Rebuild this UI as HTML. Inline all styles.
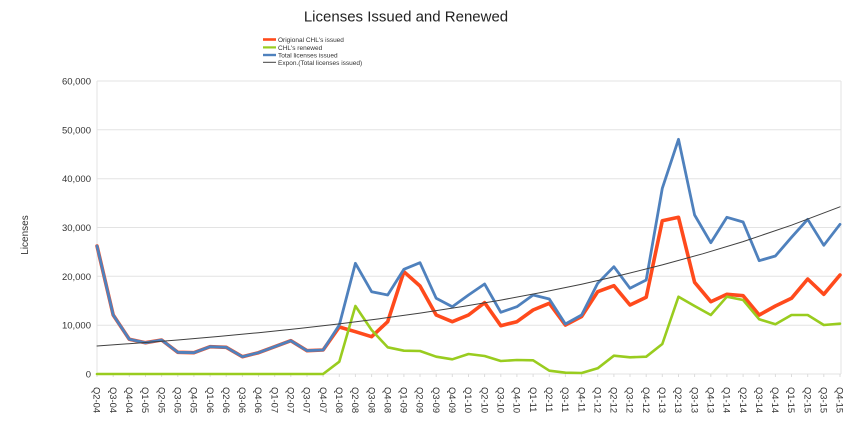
<!DOCTYPE html>
<html><head><meta charset="utf-8"><style>
html,body{margin:0;padding:0;background:#fff;}
svg{display:block;font-family:"Liberation Sans",Arial,sans-serif;}
</style></head><body>
<svg width="850" height="434" viewBox="0 0 850 434" xmlns="http://www.w3.org/2000/svg">
<rect width="850" height="434" fill="#fff"/>
<text x="406" y="21.5" font-size="15" text-anchor="middle" fill="#222">Licenses Issued and Renewed</text>
<!-- legend -->
<g font-size="6.5" fill="#333">
<rect x="263" y="38.2" width="13" height="2.6" fill="#ff4a1c"/>
<text x="278" y="41.8">Origional CHL's issued</text>
<rect x="263" y="46.3" width="13" height="2.2" fill="#99cc1f"/>
<text x="278" y="49.8">CHL's renewed</text>
<rect x="263" y="53.8" width="13" height="2.4" fill="#4f81bd"/>
<text x="278" y="57.3">Total licenses issued</text>
<rect x="263" y="61.8" width="13" height="1" fill="#404040"/>
<text x="278" y="64.8">Expon.(Total licenses issued)</text>
</g>
<!-- grid -->
<g stroke="#e3e3e3" stroke-width="1">
<line x1="97" y1="81" x2="841" y2="81"/>
<line x1="97" y1="129.8" x2="841" y2="129.8"/>
<line x1="97" y1="178.7" x2="841" y2="178.7"/>
<line x1="97" y1="227.5" x2="841" y2="227.5"/>
<line x1="97" y1="276.3" x2="841" y2="276.3"/>
<line x1="97" y1="325.2" x2="841" y2="325.2"/>
<line x1="97" y1="374" x2="841" y2="374"/>
<line x1="97" y1="81" x2="97" y2="374"/>
<line x1="841" y1="81" x2="841" y2="374"/>
</g>
<g stroke="#dcdcdc" stroke-width="1">
<path d="M97 374v3M113.2 374v3M129.3 374v3M145.5 374v3M161.6 374v3M177.8 374v3M193.9 374v3M210.1 374v3M226.2 374v3M242.4 374v3M258.5 374v3M274.7 374v3M290.8 374v3M307 374v3M323.1 374v3M339.3 374v3M355.4 374v3M371.6 374v3M387.7 374v3M403.9 374v3M420 374v3M436.2 374v3M452.3 374v3M468.5 374v3M484.6 374v3M500.8 374v3M516.9 374v3M533.1 374v3M549.3 374v3M565.4 374v3M581.6 374v3M597.7 374v3M613.9 374v3M630 374v3M646.2 374v3M662.3 374v3M678.5 374v3M694.6 374v3M710.8 374v3M726.9 374v3M743.1 374v3M759.2 374v3M775.4 374v3M791.5 374v3M807.7 374v3M823.8 374v3M840 374v3"/>
</g>
<!-- y labels -->
<g font-size="9.5" fill="#333" text-anchor="end">
<text x="91" y="84.5">60,000</text>
<text x="91" y="133.3">50,000</text>
<text x="91" y="182.2">40,000</text>
<text x="91" y="231">30,000</text>
<text x="91" y="279.8">20,000</text>
<text x="91" y="328.7">10,000</text>
<text x="91" y="377.5">0</text>
</g>
<text transform="translate(28,235) rotate(-90)" font-size="10" fill="#333" text-anchor="middle">Licenses</text>
<!-- x labels -->
<g font-size="9.4" fill="#333">
<text transform="translate(97,387) rotate(90)" dy="0.35em">Q2-04</text>
<text transform="translate(113.2,387) rotate(90)" dy="0.35em">Q3-04</text>
<text transform="translate(129.3,387) rotate(90)" dy="0.35em">Q4-04</text>
<text transform="translate(145.5,387) rotate(90)" dy="0.35em">Q1-05</text>
<text transform="translate(161.6,387) rotate(90)" dy="0.35em">Q2-05</text>
<text transform="translate(177.8,387) rotate(90)" dy="0.35em">Q3-05</text>
<text transform="translate(193.9,387) rotate(90)" dy="0.35em">Q4-05</text>
<text transform="translate(210.1,387) rotate(90)" dy="0.35em">Q1-06</text>
<text transform="translate(226.2,387) rotate(90)" dy="0.35em">Q2-06</text>
<text transform="translate(242.4,387) rotate(90)" dy="0.35em">Q3-06</text>
<text transform="translate(258.5,387) rotate(90)" dy="0.35em">Q4-06</text>
<text transform="translate(274.7,387) rotate(90)" dy="0.35em">Q1-07</text>
<text transform="translate(290.8,387) rotate(90)" dy="0.35em">Q2-07</text>
<text transform="translate(307,387) rotate(90)" dy="0.35em">Q3-07</text>
<text transform="translate(323.1,387) rotate(90)" dy="0.35em">Q4-07</text>
<text transform="translate(339.3,387) rotate(90)" dy="0.35em">Q1-08</text>
<text transform="translate(355.4,387) rotate(90)" dy="0.35em">Q2-08</text>
<text transform="translate(371.6,387) rotate(90)" dy="0.35em">Q3-08</text>
<text transform="translate(387.7,387) rotate(90)" dy="0.35em">Q4-08</text>
<text transform="translate(403.9,387) rotate(90)" dy="0.35em">Q1-09</text>
<text transform="translate(420,387) rotate(90)" dy="0.35em">Q2-09</text>
<text transform="translate(436.2,387) rotate(90)" dy="0.35em">Q3-09</text>
<text transform="translate(452.3,387) rotate(90)" dy="0.35em">Q4-09</text>
<text transform="translate(468.5,387) rotate(90)" dy="0.35em">Q1-10</text>
<text transform="translate(484.6,387) rotate(90)" dy="0.35em">Q2-10</text>
<text transform="translate(500.8,387) rotate(90)" dy="0.35em">Q3-10</text>
<text transform="translate(516.9,387) rotate(90)" dy="0.35em">Q4-10</text>
<text transform="translate(533.1,387) rotate(90)" dy="0.35em">Q1-11</text>
<text transform="translate(549.3,387) rotate(90)" dy="0.35em">Q2-11</text>
<text transform="translate(565.4,387) rotate(90)" dy="0.35em">Q3-11</text>
<text transform="translate(581.6,387) rotate(90)" dy="0.35em">Q4-11</text>
<text transform="translate(597.7,387) rotate(90)" dy="0.35em">Q1-12</text>
<text transform="translate(613.9,387) rotate(90)" dy="0.35em">Q2-12</text>
<text transform="translate(630,387) rotate(90)" dy="0.35em">Q3-12</text>
<text transform="translate(646.2,387) rotate(90)" dy="0.35em">Q4-12</text>
<text transform="translate(662.3,387) rotate(90)" dy="0.35em">Q1-13</text>
<text transform="translate(678.5,387) rotate(90)" dy="0.35em">Q2-13</text>
<text transform="translate(694.6,387) rotate(90)" dy="0.35em">Q3-13</text>
<text transform="translate(710.8,387) rotate(90)" dy="0.35em">Q4-13</text>
<text transform="translate(726.9,387) rotate(90)" dy="0.35em">Q1-14</text>
<text transform="translate(743.1,387) rotate(90)" dy="0.35em">Q2-14</text>
<text transform="translate(759.2,387) rotate(90)" dy="0.35em">Q3-14</text>
<text transform="translate(775.4,387) rotate(90)" dy="0.35em">Q4-14</text>
<text transform="translate(791.5,387) rotate(90)" dy="0.35em">Q1-15</text>
<text transform="translate(807.7,387) rotate(90)" dy="0.35em">Q2-15</text>
<text transform="translate(823.8,387) rotate(90)" dy="0.35em">Q3-15</text>
<text transform="translate(840,387) rotate(90)" dy="0.35em">Q4-15</text>
</g>
<!-- series -->
<g fill="none" stroke-linejoin="round" stroke-linecap="round">
<polyline stroke="#ff4a1c" stroke-width="3.6" points="97,246 113.2,315 129.3,339.3 145.5,342.7 161.6,340 177.8,352.3 193.9,352.7 210.1,346.7 226.2,347.3 242.4,356.7 258.5,352.7 274.7,346.7 290.8,340.7 307,350.7 323.1,350 339.3,327 355.4,331.7 371.6,336.7 387.7,321.7 403.9,271.7 420,286 436.2,315 452.3,321.7 468.5,315 484.6,302.7 500.8,325.7 516.9,321.7 533.1,310 549.3,303.3 565.4,325 581.6,316.5 597.7,291.7 613.9,285.7 630,305 646.2,297.3 662.3,220.7 678.5,217.3 694.6,282.3 710.8,301.7 726.9,294.3 743.1,295.7 759.2,315 775.4,306 791.5,298.3 807.7,279 823.8,294.3 840,275"/>
<polyline stroke="#99cc1f" stroke-width="2.6" points="97,374 113.2,374 129.3,374 145.5,374 161.6,374 177.8,374 193.9,374 210.1,374 226.2,374 242.4,374 258.5,374 274.7,374 290.8,374 307,374 323.1,374 339.3,361.7 355.4,306 371.6,330 387.7,347.3 403.9,350.7 420,351 436.2,356.7 452.3,359.3 468.5,354 484.6,356 500.8,361 516.9,360 533.1,360.3 549.3,370.7 565.4,372.7 581.6,373 597.7,368.3 613.9,355.7 630,357.3 646.2,356.7 662.3,344 678.5,296.7 694.6,306 710.8,315 726.9,296.7 743.1,300 759.2,319.3 775.4,324.3 791.5,315 807.7,315 823.8,325 840,323.7"/>
<polyline stroke="#4f81bd" stroke-width="2.8" points="97,246 113.2,315 129.3,339.3 145.5,342.7 161.6,340 177.8,352.3 193.9,352.7 210.1,346.7 226.2,347.3 242.4,356.7 258.5,352.7 274.7,346.7 290.8,340.7 307,350.7 323.1,350 339.3,325 355.4,263.3 371.6,291.7 387.7,295 403.9,269.3 420,262.7 436.2,298.3 452.3,306.7 468.5,295 484.6,284 500.8,312.3 516.9,306.7 533.1,295 549.3,299 565.4,324 581.6,315 597.7,283.3 613.9,266.7 630,288.3 646.2,280 662.3,188.3 678.5,139.3 694.6,215 710.8,242.7 726.9,217.3 743.1,222 759.2,260.7 775.4,256 791.5,237.3 807.7,219.3 823.8,245.3 840,224.3"/>
<polyline stroke="#404040" stroke-width="1" points="97,346 137.4,343.1 177.8,340 218.1,336.5 258.5,332.7 298.9,328.5 339.3,323.9 379.7,318.7 420,313.1 460.4,306.9 500.8,300.1 541.2,292.5 581.6,284.2 621.9,275 662.3,264.9 702.7,253.8 743.1,241.6 791.5,225.2 840,206.8"/>
</g>
</svg>
</body></html>
